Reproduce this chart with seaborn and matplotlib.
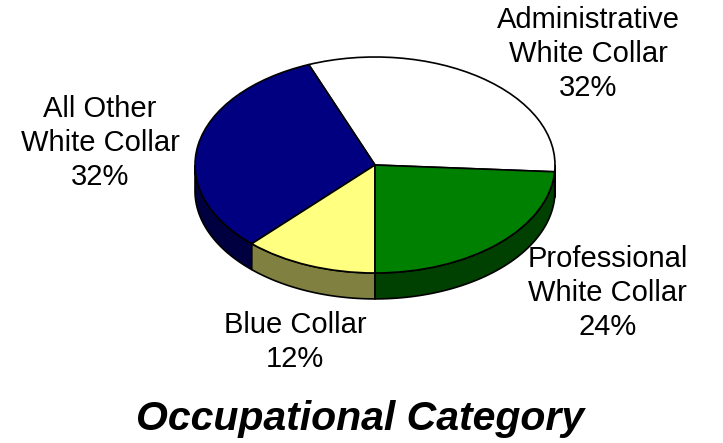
import numpy as np
import matplotlib
matplotlib.use("Agg")
import matplotlib.pyplot as plt
import seaborn as sns

# slices, in drawing order (counter-clockwise from the right)
categories = ["Administrative\nWhite Collar", "All Other\nWhite Collar",
              "Blue Collar", "Professional\nWhite Collar"]
shares = [32, 32, 12, 24]
top_colors = ["#FFFFFF", "#000080", "#FFFF80", "#008000"]
side_colors = ["#808080", "#000040", "#808040", "#004000"]
title = "Occupational Category"

sns.set_style("white")
plt.rcParams["font.family"] = ["Liberation Sans", "DejaVu Sans"]

fig = plt.figure(figsize=(7.23, 4.43), dpi=100)
ax = fig.add_axes([0, 0, 1, 1])

start = -3.6
depth = 0.24

# side walls (only the front half is visible)
edges = start + np.cumsum([0] + shares) * 3.6
for i in range(len(shares)):
    a, b = edges[i], edges[i + 1]
    lo, hi = max(a, 180), min(b, 360)
    if a < 0:
        lo, hi = a + 360, 360
    if hi <= lo:
        continue
    t = np.radians(np.linspace(lo, hi, 80))
    xs = np.concatenate([np.cos(t), np.cos(t[::-1])])
    ys = np.concatenate([np.sin(t), np.sin(t[::-1]) - depth])
    ax.fill(xs, ys, color=side_colors[i], ec="black", lw=1.2, zorder=1)

ax.pie(shares, colors=top_colors, startangle=start, counterclock=True,
       wedgeprops=dict(edgecolor="black", linewidth=1.2, zorder=2))

ax.set_aspect("auto")
ax.set_xlim(-375 / 180, (723 - 375) / 180)
ax.set_ylim(-278 / 108, 165 / 108)
ax.axis("off")

label_pos = [(1.183, 1.028), (-1.528, 0.204), (-0.444, -1.639), (1.294, -1.185)]
for name, pct, (lx, ly) in zip(categories, shares, label_pos):
    ax.text(lx, ly, f"{name}\n{pct}%", ha="center", va="center",
            fontsize=21, linespacing=1.28, color="black")

fig.text(0.498, 1 - 430 / 443, title, ha="center", va="baseline",
         fontsize=29.5, fontweight="bold", fontstyle="italic", color="black")

fig.savefig("out.png", dpi=100, facecolor="white")
